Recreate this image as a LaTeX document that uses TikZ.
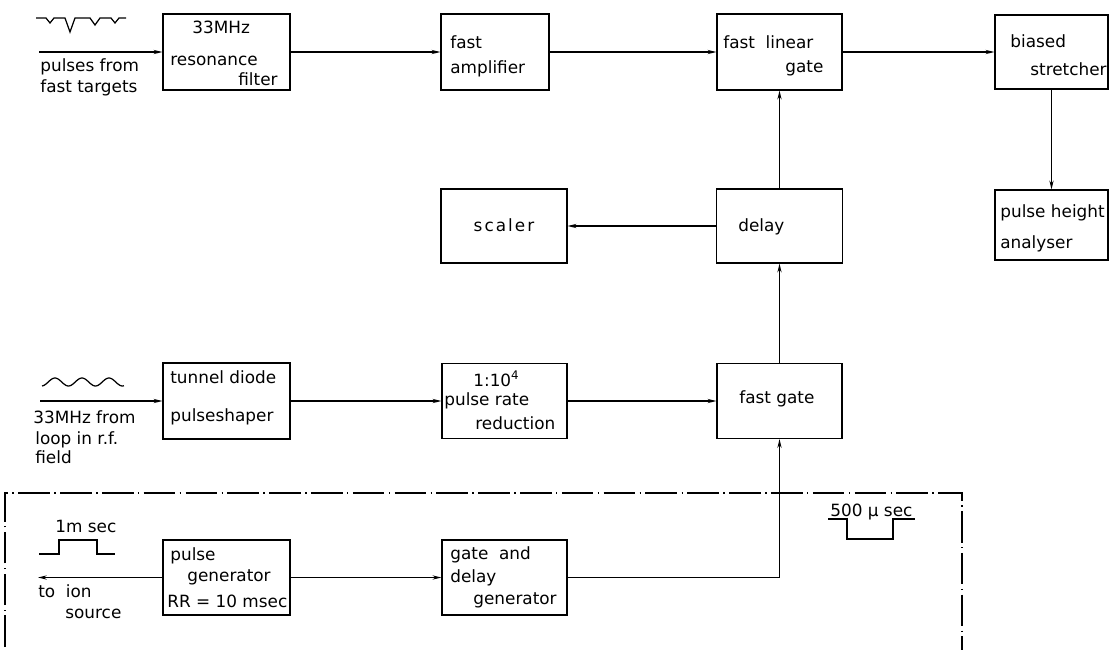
\documentclass[tikz,border=0pt]{standalone}
\usepackage{fontspec}
\setmainfont{DejaVu Sans}
\usetikzlibrary{arrows.meta}
\tikzset{
  blk/.style={draw, line width=0.7pt, inner sep=0pt},
  lbl/.style={anchor=base west, inner sep=0pt, font=\fontsize{9.6}{11}\selectfont},
  sig/.style={line width=0.7pt, -{Stealth[length=5pt,width=2.4pt]}},
  wire/.style={line width=0.7pt},
  frm/.style={line width=0.7pt, dash pattern=on 18pt off 2.5pt on 0.8pt off 2.5pt},
}
\begin{document}
\begin{tikzpicture}[x=0.02cm,y=-0.02cm]
\useasboundingbox (0,0) rectangle (1110,650);

\node[blk, minimum width=2.54cm, minimum height=1.52cm] (F) at (226.5,52) {};
\node[blk, minimum width=2.16cm, minimum height=1.52cm] (A) at (495,52) {};
\node[blk, minimum width=2.50cm, minimum height=1.52cm] (LG) at (779.5,52) {};
\node[blk, minimum width=2.26cm, minimum height=1.48cm] (BS) at (1051.5,52) {};
\node[blk, minimum width=2.26cm, minimum height=1.40cm] (PH) at (1051.5,225) {};
\node[blk, minimum width=2.52cm, minimum height=1.48cm] (SC) at (504,226) {};
\node[blk, minimum width=2.52cm, minimum height=1.48cm] (D) at (779.5,226) {};
\node[blk, minimum width=2.54cm, minimum height=1.52cm] (TD) at (226.5,401) {};
\node[blk, minimum width=2.50cm, minimum height=1.50cm] (PR) at (504.5,401) {};
\node[blk, minimum width=2.50cm, minimum height=1.50cm] (FG) at (779.5,401) {};
\node[blk, minimum width=2.54cm, minimum height=1.50cm] (PG) at (226.5,577.5) {};
\node[blk, minimum width=2.50cm, minimum height=1.50cm] (GD) at (504.5,577.5) {};

\node[lbl] (F1) at (192,33) {33MHz};
\node[lbl] (F2) at (170,65) {resonance};
\node[lbl] (F3) at (238,85) {filter};
\node[lbl] (A1) at (450,48) {fast};
\node[lbl] (A2) at (450,73) {amplifier};
\node[lbl] (LG1) at (723,48) {fast\hspace{3pt} linear};
\node[lbl] (LG2) at (785,72) {gate};
\node[lbl] (BS1) at (1010,47) {biased};
\node[lbl] (BS2) at (1030,75) {stretcher};
\node[lbl] (PH1) at (1000,217) {pulse height};
\node[lbl] (PH2) at (1000,248) {analyser};
\node[lbl, anchor=base, font=\fontsize{9.6}{11}\selectfont\addfontfeature{LetterSpace=12}] (SC1) at (504,231) {scaler};
\node[lbl] (D1) at (738,231) {delay};
\node[lbl] (TD1) at (170,383) {tunnel diode};
\node[lbl] (TD2) at (170,421) {pulseshaper};
\node[lbl] (PR1) at (473,386) {1:10\textsuperscript{4}};
\node[lbl] (PR2) at (444,405) {pulse rate};
\node[lbl] (PR3) at (475,429) {reduction};
\node[lbl] (FG1) at (739,403) {fast gate};
\node[lbl] (PG1) at (170,560) {pulse};
\node[lbl] (PG2) at (187,581) {generator};
\node[lbl] (PG3) at (167,607) {RR = 10 msec};
\node[lbl] (GD1) at (450,559) {gate\hspace{3pt} and};
\node[lbl] (GD2) at (450,582) {delay};
\node[lbl] (GD3) at (473,604) {generator};

\node[lbl] (T1) at (40,71) {pulses from};
\node[lbl] (T2) at (40,92) {fast targets};
\node[lbl] (R1) at (33,423) {33MHz from};
\node[lbl] (R2) at (35,444) {loop in r.f.};
\node[lbl] (R3) at (35,463) {field};
\node[lbl] (W1) at (55,532) {1m sec};
\node[lbl] (S1) at (38,597) {to\hspace{3pt} ion};
\node[lbl] (S2) at (65,618) {source};
\node[lbl] (W2) at (830,516) {500 µ sec};

\coordinate (I1) at (39,52);
\coordinate (I2) at (40,401);
\coordinate (O) at (38,577.5);

\draw[sig] (I1) -- (F);
\draw[sig] (F) -- (A);
\draw[sig] (A) -- (LG);
\draw[sig] (LG) -- (BS);
\draw[sig] (BS) -- (PH);
\draw[sig] (D) -- (LG);
\draw[sig] (D) -- (SC);
\draw[sig] (FG) -- (D);
\draw[sig] (I2) -- (TD);
\draw[sig] (TD) -- (PR);
\draw[sig] (PR) -- (FG);
\draw[sig] (PG) -- (O);
\draw[sig] (PG) -- (GD);
\draw[sig] (GD) -| (FG);

\coordinate (K1) at (5,647);
\coordinate (K2) at (5,493);
\coordinate (K3) at (962,493);
\coordinate (K4) at (962,650);
\draw[frm] (K1) -- (K2) -- (K3) -- (K4);

\draw[wire] (36,18) -- (46,18) -- (50,23) -- (54,18) -- (65,18) -- (70,32) -- (75,18)
  -- (90,18) -- (95,25) -- (100,18) -- (111,18) -- (115,23) -- (119,18) -- (126,18);
\draw[wire] plot[domain=42:124, samples=80] (\x, {382 - 4*sin(13.333*(\x-42) - 83)});
\draw[wire] (39,554) -- (59,554) -- (59,540) -- (97,540) -- (97,554) -- (115,554);
\draw[wire] (828,519) -- (847,519) -- (847,539) -- (893,539) -- (893,519) -- (915,519);
\end{tikzpicture}
\end{document}
